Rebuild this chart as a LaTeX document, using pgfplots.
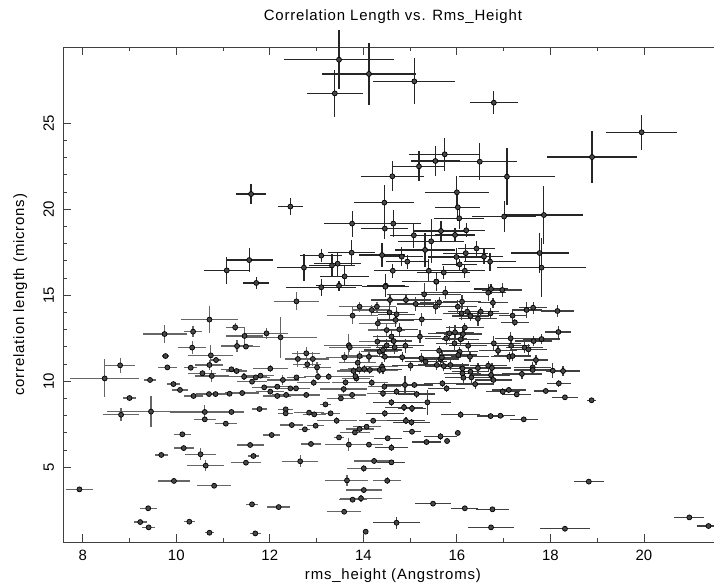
\documentclass[border=0pt]{standalone}
\usepackage{fontspec}
\setmainfont{Liberation Sans}
\usepackage{pgfplots}
\usepackage{pgfplotstable}
\pgfplotsset{compat=1.18}
\pgfplotstableread{
x y ex ey
13.48 28.7 1.17 1.7
14.12 27.87 1.0 1.8
13.39 26.74 0.6 1.36
15.09 27.44 0.88 1.33
11.6 20.89 0.32 0.58
12.44 20.16 0.27 0.48
14.62 21.92 0.68 0.87
14.45 20.39 0.64 1.0
13.76 19.17 0.6 0.75
14.46 18.88 0.5 0.6
11.56 17.05 0.5 0.7
11.08 16.45 0.49 0.78
13.1 17.31 0.45 0.4
12.73 16.61 0.58 0.8
13.33 16.74 0.49 0.65
13.45 16.84 0.5 0.7
13.75 17.48 0.5 0.72
14.4 17.34 0.5 0.68
13.6 16.1 0.52 0.58
11.71 15.72 0.28 0.34
13.1 15.47 0.75 0.5
13.48 15.56 0.5 0.3
14.48 15.56 0.4 0.68
16.79 26.2 0.52 0.68
19.95 24.48 0.76 1.02
18.89 23.04 0.97 1.5
15.74 23.2 0.76 0.97
16.49 22.77 0.8 1.07
15.54 22.81 0.53 0.85
15.19 22.5 0.55 0.87
17.07 21.9 1.03 1.65
16.0 20.99 0.68 0.95
16.02 20.12 0.48 0.78
16.05 19.48 0.54 0.6
17.01 19.58 0.69 0.9
17.86 19.67 0.83 1.66
14.64 19.17 0.6 0.78
15.08 18.49 0.52 0.73
15.66 18.74 0.57 0.58
15.96 18.51 0.43 0.4
16.2 18.78 0.4 0.4
15.45 18.14 0.7 1.28
15.32 17.64 0.64 0.97
14.82 17.25 0.45 0.56
14.94 16.96 0.46 0.4
15.99 17.23 0.6 0.5
16.19 17.45 0.48 0.53
16.42 17.72 0.4 0.44
16.58 17.25 0.4 0.44
16.71 16.96 0.55 0.53
16.06 16.8 0.38 0.3
17.77 17.46 0.62 1.18
17.81 16.61 0.95 1.7
14.63 16.43 0.4 0.4
15.4 16.43 0.64 0.68
15.72 16.33 0.57 0.4
16.17 16.43 0.43 0.4
15.56 15.79 0.73 0.53
14.47 15.5 0.5 0.4
16.73 15.37 0.36 0.3
}\tabA
\pgfplotstableread{
x y ex ey
7.93 3.72 0.28 0.1
8.47 10.17 0.74 1.1
8.8 10.93 0.32 0.45
8.82 8.06 0.38 0.39
9.0 9.03 0.14 0.1
9.44 10.08 0.12 0.1
9.46 8.24 0.95 0.92
9.75 12.75 0.47 0.53
9.77 11.47 0.08 0.1
9.81 10.81 0.2 0.12
9.94 9.84 0.14 0.1
10.08 9.5 0.18 0.1
10.36 12.89 0.2 0.3
10.34 11.96 0.3 0.36
10.31 10.79 0.14 0.1
10.37 9.15 0.2 0.1
10.71 13.59 0.6 0.8
10.74 11.51 0.48 0.58
10.85 11.24 0.1 0.1
10.71 10.95 0.3 0.3
10.56 10.47 0.3 0.2
10.76 10.31 0.36 0.34
10.7 9.26 0.28 0.1
10.84 9.26 0.28 0.1
10.61 8.22 0.75 0.43
10.61 7.79 0.23 0.1
11.06 7.54 0.23 0.1
11.18 10.7 0.23 0.1
11.29 10.6 0.23 0.1
11.45 10.27 0.5 0.2
11.14 9.28 0.5 0.1
11.41 9.32 0.36 0.1
11.18 8.22 0.27 0.1
11.26 13.14 0.2 0.24
11.46 12.64 0.4 0.5
11.3 12.05 0.34 0.34
11.49 12.02 0.29 0.1
11.93 12.79 0.45 0.34
12.23 12.56 0.78 1.2
12.01 10.74 0.37 0.2
11.62 9.98 0.32 0.1
11.8 10.33 0.3 0.15
11.7 10.23 0.3 0.12
11.88 9.65 0.25 0.1
12.01 9.4 0.3 0.12
12.16 9.69 0.3 0.12
12.28 10.08 0.35 0.3
12.16 9.15 0.3 0.1
12.35 9.21 0.3 0.12
12.44 9.59 0.32 0.15
12.57 14.65 0.48 0.53
12.57 10.23 0.2 0.15
12.56 9.59 0.3 0.15
12.6 11.3 0.28 0.48
12.78 11.63 0.3 0.35
12.92 11.3 0.35 0.4
12.8 10.99 0.3 0.3
13.01 10.81 0.3 0.3
13.03 10.27 0.3 0.2
12.78 9.21 0.3 0.15
12.94 9.92 0.35 0.2
11.78 8.39 0.15 0.1
12.34 8.37 0.16 0.1
12.34 8.14 0.16 0.1
12.84 8.18 0.32 0.1
12.95 8.08 0.25 0.1
13.19 8.66 0.12 0.1
13.3 8.14 0.21 0.1
13.43 7.71 0.43 0.2
12.47 7.46 0.25 0.1
12.75 7.21 0.12 0.1
12.98 7.42 0.18 0.1
13.48 6.74 0.1 0.1
12.88 6.36 0.22 0.1
13.69 6.32 0.5 0.39
13.82 7.03 0.32 0.15
13.58 9.55 0.5 0.2
13.52 9.01 0.3 0.15
13.76 9.21 0.3 0.15
13.62 9.94 0.3 0.2
13.85 10.17 0.3 0.2
13.79 10.6 0.35 0.25
13.69 12.09 0.54 0.68
13.6 11.4 0.4 0.3
13.77 13.82 0.54 0.48
13.92 14.34 0.43 0.3
14.18 14.15 0.4 0.3
14.31 13.37 0.4 0.35
14.3 12.31 0.4 0.4
14.5 12.98 0.4 0.4
13.92 11.47 0.4 0.3
14.02 10.72 0.35 0.25
14.14 10.66 0.35 0.25
14.4 10.85 0.35 0.25
14.18 9.92 0.35 0.2
14.45 9.69 0.35 0.2
14.42 9.3 0.35 0.2
14.07 7.36 0.3 0.15
13.92 7.23 0.3 0.15
14.21 7.71 0.3 0.15
14.12 6.32 0.3 0.15
14.23 5.37 0.43 0.2
14.01 4.94 0.36 0.2
13.65 4.24 0.46 0.34
14.51 4.22 0.3 0.2
14.01 3.68 0.39 0.2
13.95 3.2 0.45 0.2
13.77 3.12 0.3 0.15
13.59 2.42 0.37 0.15
14.05 1.26 0 0
12.65 5.35 0.39 0.34
12.04 6.88 0.18 0.1
11.58 6.3 0.29 0.1
11.65 5.66 0.12 0.1
11.49 5.27 0.32 0.1
12.19 2.69 0.25 0.1
11.62 2.85 0.12 0.1
11.69 1.16 0.12 0.1
10.71 1.2 0.1 0.05
10.81 3.93 0.37 0.12
10.63 5.1 0.39 0.34
10.52 5.76 0.34 0.34
10.16 6.12 0.21 0.1
10.13 6.92 0.18 0.1
9.68 5.72 0.14 0.1
9.95 4.21 0.34 0.1
9.4 2.62 0.18 0.1
9.23 1.82 0.14 0.1
9.41 1.51 0.14 0.1
10.28 1.84 0.12 0.1
14.29 14.34 0.4 0.3
13.71 11.98 0.45 0.3
14.35 11.72 0.4 0.3
14.12 11.43 0.45 0.3
13.88 11.08 0.4 0.3
13.91 10.7 0.4 0.25
14.35 10.66 0.4 0.25
13.26 10.27 0.35 0.2
13.83 10.3 0.4 0.25
}\tabB
\pgfplotstableread{
x y ex ey
15.56 15.8 0.4 0.4
15.3 15.06 0.79 0.68
15.75 15.16 0.52 0.4
14.91 14.73 0.53 0.3
15.12 14.5 0.4 0.4
14.57 14.73 0.4 0.3
15.62 14.59 0.4 0.3
15.55 14.34 0.45 0.4
16.67 15.16 0.39 0.48
16.97 15.31 0.43 0.4
16.77 14.57 0.32 0.3
16.11 14.63 0.4 0.4
16.02 14.34 0.4 0.4
16.22 14.05 0.4 0.3
16.1 13.95 0.4 0.4
16.29 13.8 0.4 0.3
16.45 13.64 0.4 0.4
16.51 14.05 0.4 0.3
16.72 13.95 0.4 0.3
17.49 14.15 0.32 0.48
17.63 14.28 0.3 0.34
18.15 14.09 0.35 0.34
17.19 13.82 0.29 0.3
17.24 13.43 0.3 0.2
15.25 13.6 0.43 0.4
14.69 13.57 0.4 0.4
14.56 14.01 0.4 0.4
14.71 13.9 0.4 0.4
14.77 13.02 0.4 0.4
14.6 12.6 0.4 0.4
14.65 12.34 0.4 0.4
14.5 12.09 0.4 0.4
14.67 11.98 0.4 0.4
14.9 12.07 0.4 0.4
15.21 12.6 0.45 0.4
15.84 12.79 0.45 0.45
15.96 12.85 0.4 0.4
16.13 12.75 0.4 0.4
16.17 13.12 0.4 0.3
15.77 12.5 0.45 0.4
16.08 12.44 0.4 0.4
16.24 12.07 0.4 0.3
15.95 12.21 0.4 0.4
15.62 11.78 0.4 0.3
16.06 11.72 0.4 0.3
16.28 11.43 0.4 0.3
16.03 11.53 0.4 0.3
15.24 11.34 0.45 0.3
14.83 11.4 0.45 0.3
14.46 11.43 0.4 0.3
14.42 11.82 0.4 0.3
15.33 11.14 0.45 0.3
15.65 11.3 0.4 0.3
15.72 10.89 0.4 0.3
15.86 10.95 0.4 0.3
15.57 10.95 0.4 0.3
15.01 10.91 0.4 0.3
14.42 10.7 0.4 0.3
16.79 12.21 0.57 0.4
16.88 11.78 0.4 0.3
17.15 12.5 0.34 0.34
17.16 12.07 0.4 0.3
17.45 11.96 0.4 0.3
17.53 11.86 0.4 0.3
17.64 12.34 0.4 0.3
17.81 12.46 0.4 0.3
18.17 12.87 0.28 0.34
17.12 11.43 0.4 0.3
17.19 11.47 0.4 0.3
17.69 11.24 0.25 0.3
16.67 10.91 0.4 0.3
16.45 10.78 0.4 0.3
16.12 10.47 0.4 0.3
16.29 10.56 0.4 0.3
16.31 10.23 0.4 0.3
16.14 10.21 0.4 0.3
16.39 9.84 0.4 0.3
16.73 10.37 0.4 0.3
16.78 10.08 0.4 0.3
17.39 10.43 0.43 0.3
17.62 10.81 0.4 0.3
17.62 10.66 0.4 0.3
18.05 10.62 0.46 0.44
18.27 10.6 0.36 0.3
18.18 9.88 0.25 0.2
17.9 9.44 0.25 0.2
18.31 9.07 0.28 0.15
18.88 8.9 0.09 0.1
16.98 9.4 0.36 0.2
17.11 9.5 0.36 0.2
17.28 9.24 0.3 0.15
15.69 9.88 0.4 0.2
15.78 9.59 0.4 0.2
14.71 9.4 0.4 0.2
14.89 9.79 0.4 0.53
15.09 9.79 0.4 0.2
15.14 9.26 0.4 0.2
14.6 8.78 0.4 0.2
14.87 8.49 0.4 0.2
15.04 8.43 0.3 0.2
15.37 8.78 0.5 0.73
14.46 8.14 0.4 0.2
14.91 7.71 0.4 0.2
15.03 7.62 0.4 0.2
15.04 7.07 0.2 0.15
16.08 8.06 0.41 0.2
16.72 7.98 0.29 0.1
16.93 8.0 0.32 0.1
17.43 7.79 0.3 0.15
16.02 7.0 0 0
15.79 6.53 0 0
15.65 6.8 0.36 0.2
15.35 6.47 0.3 0.15
14.52 6.69 0.3 0.15
14.6 6.14 0.35 0.2
14.6 5.29 0.3 0.15
18.82 4.17 0.32 0.1
15.49 2.89 0.38 0.1
16.17 2.62 0.29 0.1
16.76 2.56 0.36 0.15
14.71 1.78 0.5 0.34
16.73 1.51 0.49 0.15
18.31 1.43 0.53 0.15
20.97 2.09 0.32 0.15
21.38 1.59 0.25 0.2
15.68 11.39 0.4 0.3
16.75 10.78 0.4 0.3
16.12 10.75 0.4 0.3
}\tabC
\pgfplotsset{
  pts/.style={only marks, mark=*, mark size=2.5bp,
     mark options={fill=black!72, draw=black, line width=0.7bp},
     error bars/.cd, x dir=both, x explicit, y dir=both, y explicit,
     error mark=none, error bar style={line width=1.2bp, #1}},
}
\begin{document}
\fontsize{15}{18}\selectfont
\begin{tikzpicture}
\useasboundingbox (0,0) rectangle (714bp,587bp);
\begin{axis}[
  at={(63.3bp,45bp)}, anchor=south west,
  scale only axis, width=652.7bp, height=494.7bp,
  xmin=7.585, xmax=21.54, ymin=0.66, ymax=29.42,
  xtick={8,10,...,20}, ytick={5,10,...,25},
  minor x tick num=1, minor y tick num=4,
  tick align=inside, major tick length=8bp, minor tick length=4bp,
  xtick pos=both, ytick pos=left,
  axis line style={black!75, line width=1bp},
  tick style={black!75, line width=0.9bp},
  /pgf/number format/assume math mode=true,
  ticklabel style={font=\fontsize{15}{18}\selectfont},
  xticklabel style={inner sep=0pt, anchor=north},
  xticklabel shift=8bp,
  yticklabel style={rotate=90, anchor=south, inner sep=0pt},
  yticklabel shift=9bp,
  title={\addfontfeature{LetterSpace=5.5}Correlation Length vs. Rms\_Height},
  title style={at={(axis description cs:0.505,1.05)}, anchor=center, inner sep=0pt},
  xlabel={\addfontfeature{LetterSpace=5.5}rms\_height (Angstroms)},
  xlabel style={at={(axis description cs:0.505,-0.0687)}, anchor=center, inner sep=0pt},
  ylabel={\addfontfeature{LetterSpace=5.5}correlation length (microns)},
  ylabel style={at={(axis description cs:-0.0659,0.5)}, anchor=center, inner sep=0pt},
  clip=false,
]
\addplot[pts=black!85] table[x=x, y=y, x error=ex, y error=ey] {\tabA};
\addplot[pts=black!60] table[x=x, y=y, x error=ex, y error=ey] {\tabB};
\addplot[pts=black!75] table[x=x, y=y, x error=ex, y error=ey] {\tabC};
\end{axis}
\end{tikzpicture}
\end{document}
